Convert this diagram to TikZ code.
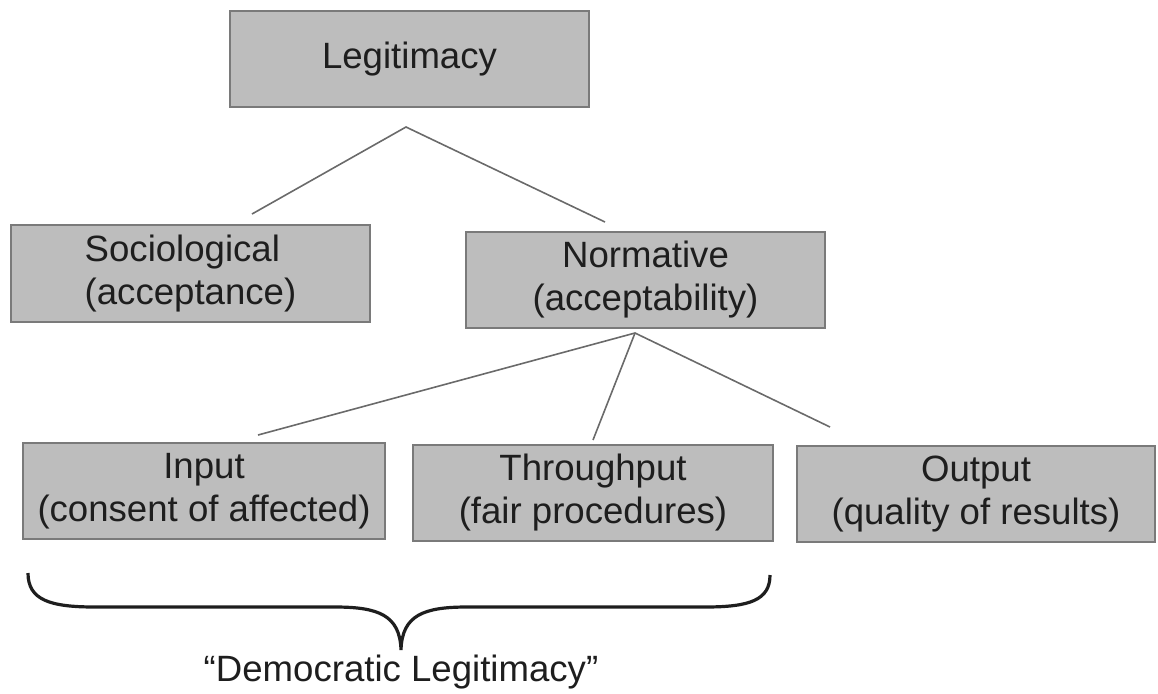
\documentclass[tikz,border=0pt]{standalone}
\usepackage{fontspec}
\setmainfont{Liberation Sans}
\definecolor{boxfill}{HTML}{BDBDBD}
\definecolor{boxline}{HTML}{7A7A7A}
\definecolor{conn}{HTML}{6A6A6A}
\definecolor{txt}{HTML}{1E1E1E}
\begin{document}
\begin{tikzpicture}[x=0.5pt,y=-0.5pt,
  box/.style={draw=boxline, line width=0.6pt, fill=boxfill, inner sep=0pt,
    align=center, text=txt, font=\fontsize{18.3}{21.5}\selectfont},
  conn/.style={draw=conn, line width=0.8pt}]
\useasboundingbox (0,0) rectangle (1158,693);
\node[box, minimum width=179.5pt, minimum height=48pt] (leg) at (409.5,59) {Legitimacy};
\node[box, align=left, minimum width=179.5pt, minimum height=48.5pt] (soc) at (190.5,273.5) {Sociological\\(acceptance)};
\node[box, minimum width=179.5pt, minimum height=48pt] (nor) at (645.5,280) {Normative\\(acceptability)};
\node[box, minimum width=181pt, minimum height=48pt] (inp) at (204,491) {Input\\(consent of affected)};
\node[box, minimum width=180pt, minimum height=48pt] (thr) at (593,493) {Throughput\\(fair procedures)};
\node[box, minimum width=179pt, minimum height=48pt] (out) at (976,494) {Output\\(quality of results)};
\coordinate (legapex) at (406,127);
\coordinate (socend) at (252,214);
\coordinate (norend) at (605,222);
\coordinate (norapex) at (635,333);
\coordinate (inpend) at (258,435);
\coordinate (thrend) at (593,440);
\coordinate (outend) at (830,427);
\draw[conn] (socend) -- (legapex) -- (norend);
\draw[conn] (inpend) -- (norapex) -- (outend);
\draw[conn] (norapex) -- (thrend);
\coordinate (brl) at (28,573);
\coordinate (brtip) at (401,650);
\coordinate (brr) at (770,575);
\draw[line width=1.6pt, txt] (brl) .. controls (28,600) and (50,607) .. (95,607)
  -- (335,607) .. controls (378,607) and (400,615) .. (brtip)
  .. controls (402,615) and (424,607) .. (467,607)
  -- (705,607) .. controls (750,607) and (770,600) .. (brr);
\node[text=txt, font=\fontsize{18.3}{21.5}\selectfont, inner sep=0pt, anchor=base] (dem) at (401,681) {“Democratic Legitimacy”};
\end{tikzpicture}
\end{document}
